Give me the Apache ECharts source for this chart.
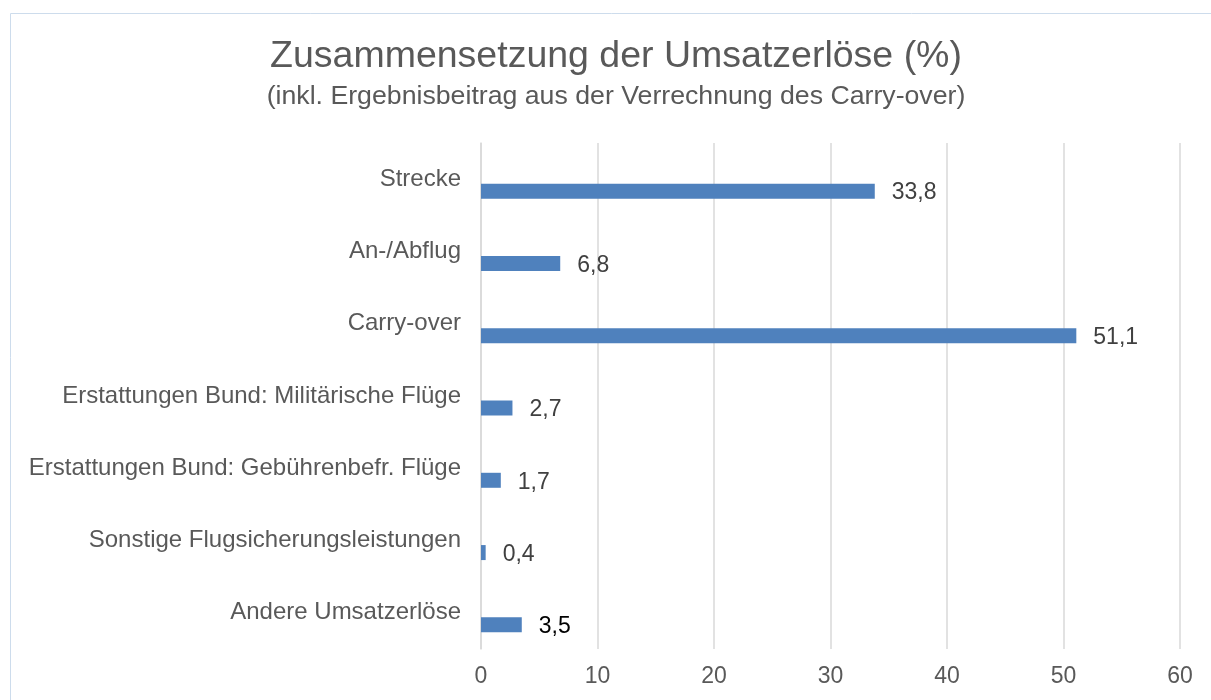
<!DOCTYPE html>
<html>
<head>
<meta charset="utf-8">
<script src="https://cdn.jsdelivr.net/npm/echarts@6/dist/echarts.min.js"></script>
<style>
  html, body { margin: 0; padding: 0; background: #fff; }
  #main { width: 1211px; height: 700px; }
</style>
</head>
<body>
<div id="main"></div>
<script>
// Kategorien von oben nach unten
var categories = [
    'Strecke',
    'An-/Abflug',
    'Carry-over',
    'Erstattungen Bund: Militärische Flüge',
    'Erstattungen Bund: Gebührenbefr. Flüge',
    'Sonstige Flugsicherungsleistungen',
    'Andere Umsatzerlöse'
];
var values = [33.8, 6.8, 51.1, 2.7, 1.7, 0.4, 3.5];
var xTicks = [0, 10, 20, 30, 40, 50, 60];

var myChart = echarts.init(document.getElementById('main'));
var font = 'Liberation Sans, Arial, sans-serif';

var option = {
    animation: false,
    textStyle: { fontFamily: font },
    title: {
        text: 'Zusammensetzung der Umsatzerlöse (%)',
        subtext: '(inkl. Ergebnisbeitrag aus der Verrechnung des Carry-over)',
        left: 611,
        top: 33,
        textAlign: 'center',
        itemGap: 7,
        textStyle: { fontSize: 37.5, fontWeight: 'normal', color: '#595959', fontFamily: font },
        subtextStyle: { fontSize: 26.7, color: '#595959', fontFamily: font }
    },
    graphic: [{
        type: 'rect',
        shape: { x: 10.5, y: 13.5, width: 1300, height: 800 },
        style: { fill: 'none', stroke: '#cddcec', lineWidth: 1 },
        silent: true
    }],
    grid: { left: 481, right: 31, top: 143, bottom: 51 },
    xAxis: {
        type: 'value',
        min: xTicks[0],
        max: xTicks[xTicks.length - 1],
        interval: 10,
        axisLine: { show: false },
        axisTick: { show: false },
        splitLine: { lineStyle: { color: '#d9d9d9', width: 1.5 } },
        axisLabel: { fontSize: 23, color: '#595959', margin: 16 }
    },
    yAxis: {
        type: 'category',
        data: categories,
        inverse: true,
        axisTick: { show: false },
        axisLine: { show: true, lineStyle: { color: '#d9d9d9', width: 1.5 } },
        axisLabel: { fontSize: 24, color: '#595959', margin: 20, padding: [0, 0, 14, 0] }
    },
    series: [
        {
            type: 'bar',
            data: values.map(function () { return '-'; }),
            barWidth: 15,
            barGap: '60%',
            silent: true
        },
        {
            type: 'bar',
            data: values.map(function (v, i) {
                var item = { value: v };
                if (i === values.length - 1) item.label = { color: '#000000' };
                return item;
            }),
            barWidth: 15,
            barGap: '60%',
            itemStyle: { color: '#4f81bd' },
            label: {
                show: true,
                position: 'right',
                distance: 17,
                offset: [0, 2],
                fontSize: 23,
                color: '#404040',
                formatter: function (p) { return String(p.value).replace('.', ','); }
            }
        }
    ]
};
myChart.setOption(option);
</script>
</body>
</html>
